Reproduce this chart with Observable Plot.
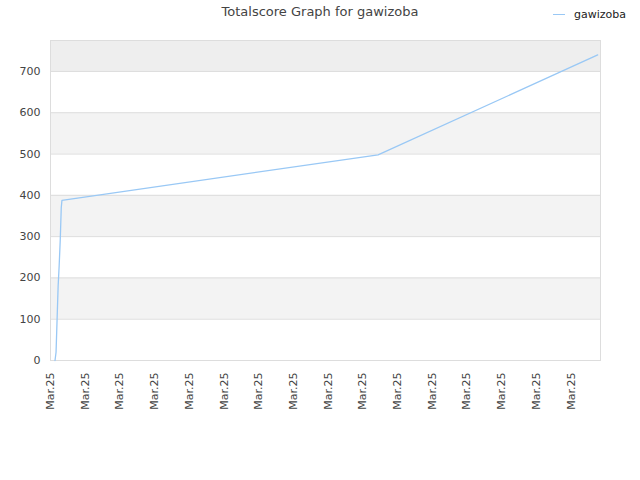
<!DOCTYPE html>
<html>
<head>
<meta charset="utf-8">
<script src="https://cdn.jsdelivr.net/npm/d3@7"></script>
<script src="https://cdn.jsdelivr.net/npm/@observablehq/plot@0.6"></script>
<style>
  html, body { margin: 0; padding: 0; background: #fff; }
  #wrap { width: 640px; height: 480px; position: relative; font-family: "DejaVu Sans", sans-serif; }
  #header { height: 30px; position: relative; }
  #title { position: absolute; left: 0; right: 0; top: 4px; text-align: center; font-size: 13px; color: #444; }
  #legend { position: absolute; left: 553px; top: 8px; font-size: 11px; color: #222; display: flex; align-items: center; }
  #legend .swatch { width: 12px; height: 0; border-top: 1.5px solid #99c8f5; margin-right: 9px; }
</style>
</head>
<body>
<div id="wrap">
  <div id="header">
    <div id="title">Totalscore Graph for gawizoba</div>
    <div id="legend"><span class="swatch"></span><span>gawizoba</span></div>
  </div>
  <div id="chart"></div>
</div>
<script>
// Data (x = position along time axis, in tick units)
const seriesX = [0.13, 0.16, 0.19, 0.22, 0.25, 0.28, 0.31, 0.33, 9.44, 15.77];
const seriesY = [0, 20, 100, 180, 230, 290, 370, 388, 498, 740];
const tickPositions = [0,1,2,3,4,5,6,7,8,9,10,11,12,13,14,15];
const tickLabels = ["Mar.25","Mar.25","Mar.25","Mar.25","Mar.25","Mar.25","Mar.25","Mar.25","Mar.25","Mar.25","Mar.25","Mar.25","Mar.25","Mar.25","Mar.25","Mar.25"];
const yTicks = [0, 100, 200, 300, 400, 500, 600, 700];
const bandLow = [100, 300, 500];
const bandHigh = [200, 400, 600];
const topBand = [700, 775];
const xMax = 15.85;
const yMax = 775;

const points = seriesX.map((x, i) => ({x, y: seriesY[i]}));
const bands = bandLow.map((lo, i) => ({y1: lo, y2: bandHigh[i]}));

const chart = Plot.plot({
  width: 640,
  height: 450,
  marginTop: 10,
  marginBottom: 120,
  marginLeft: 50,
  marginRight: 40,
  style: { fontFamily: "DejaVu Sans, sans-serif", fontSize: "11px", color: "#444", background: "#fff" },
  x: { domain: [0, xMax], ticks: tickPositions, tickFormat: (d, i) => tickLabels[i], tickRotate: -90, tickSize: 0, tickPadding: 12, label: null },
  y: { domain: [0, yMax], ticks: yTicks, tickSize: 0, tickPadding: 10, label: null },
  marks: [
    Plot.rect(bands, { x1: 0, x2: xMax, y1: "y1", y2: "y2", fill: "#f3f3f3" }),
    Plot.rect([{y1: topBand[0], y2: topBand[1]}], { x1: 0, x2: xMax, y1: "y1", y2: "y2", fill: "#eeeeee" }),
    Plot.ruleY(yTicks, { stroke: "#dddddd", strokeWidth: 1 }),
    Plot.frame({ stroke: "#dddddd", strokeWidth: 1 }),
    Plot.line(points, { x: "x", y: "y", stroke: "#99c8f5", strokeWidth: 1.3 })
  ]
});
document.getElementById("chart").appendChild(chart);
</script>
</body>
</html>
